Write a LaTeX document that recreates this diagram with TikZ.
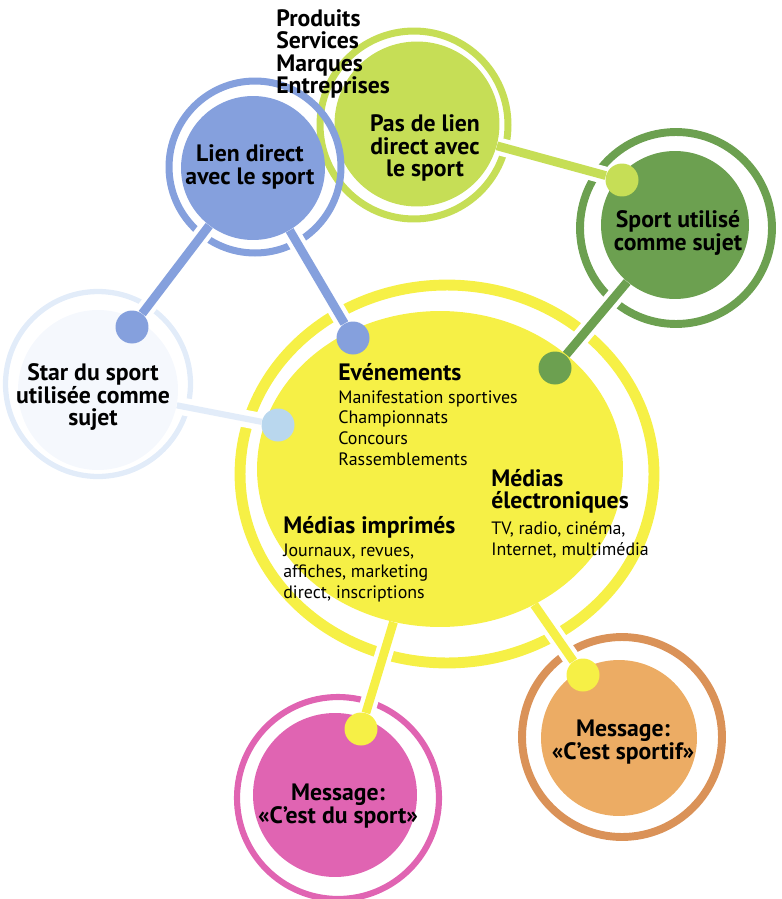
\documentclass[tikz,border=0pt]{standalone}
\usepackage{fontspec}
\setmainfont{PT Sans}
\usepackage{tikz}
\usetikzlibrary{positioning,shapes.geometric}
\definecolor{lienblue}{RGB}{133,160,221}
\definecolor{pasgreen}{RGB}{198,222,86}
\definecolor{sportgreen}{RGB}{108,160,80}
\definecolor{eventyellow}{RGB}{246,240,70}
\definecolor{msgpink}{RGB}{224,100,178}
\definecolor{msgorange}{RGB}{236,172,100}
\definecolor{msgbrown}{RGB}{218,146,88}
\definecolor{starring}{RGB}{226,236,249}
\definecolor{starfill}{RGB}{245,248,253}
\definecolor{dotblue}{RGB}{185,215,238}
\newcommand{\headfont}{\bfseries\fontsize{13.5}{12.8}\selectfont}
\newcommand{\listfont}{\fontsize{10.2}{11.7}\selectfont}
\pgfdeclarelayer{rings}
\pgfdeclarelayer{links}
\pgfsetlayers{rings,links,main}
\tikzset{
  ring/.style   = {circle, draw=#1, line width=4pt, inner sep=0pt},
  bubble/.style = {circle, fill=#1, inner sep=0pt},
  dot/.style    = {circle, fill=#1, inner sep=0pt, minimum size=0.66cm},
  link/.style   = {draw=#1, line width=5pt,
                   preaction={draw=white, line width=10pt}},
  title/.style  = {font=\headfont, align=center, inner sep=0pt},
  head/.style   = {font=\headfont, align=left, inner sep=0pt, anchor=base west},
  list/.style   = {font=\listfont, align=left, inner sep=0pt, anchor=base west}
}

\begin{document}
\begin{tikzpicture}[x=0.02cm, y=-0.02cm]
  \useasboundingbox (0,0) rectangle (781,899);
  \begin{pgfonlayer}{rings}
    \node[ring=starring, line width=3pt, minimum size=3.7cm] (starring) at (98,384) {};
    \node[ring=pasgreen, minimum size=3.76cm] (pasring) at (414,125) {};
    \node[bubble=pasgreen, minimum size=3.3cm] (pas) at (417,124) {};
    \node[ring=lienblue, minimum size=3.44cm] (lienring) at (255,167) {};
    \node[ring=sportgreen, line width=4.5pt, minimum size=3.84cm] (sportring) at (676,228) {};
    \node[ring=eventyellow, ellipse, line width=6.2pt, minimum width=8.28cm,
          minimum height=7.56cm] (eventring) at (447,474) {};
    \node[ring=msgpink, line width=3.5pt, minimum size=4.04cm] (pinkring) at (338,798) {};
    \node[ring=msgbrown, line width=4.5pt, minimum size=4cm] (orangering) at (622,737) {};
  \end{pgfonlayer}

  \node[bubble=starfill, minimum size=3.2cm] (star) at (98,390) {};
  \node[bubble=lienblue, minimum size=2.88cm] (lien) at (253,168) {};
  \node[bubble=sportgreen, minimum size=2.96cm] (sport) at (675,225) {};
  \node[bubble=eventyellow, ellipse, minimum width=7.32cm, minimum height=6.32cm] (event) at (440,469) {};
  \node[bubble=msgpink, minimum size=3.28cm] (pink) at (335,795) {};
  \node[bubble=msgorange, minimum size=3.12cm] (orange) at (619,738) {};

  \node[dot=lienblue] (d1) at (132,327) {};
  \node[dot=lienblue] (d2) at (353,338) {};
  \node[dot=pasgreen] (d3) at (622,180) {};
  \node[dot=sportgreen] (d4) at (555,368) {};
  \node[dot=dotblue] (d5) at (278,425) {};
  \node[dot=eventyellow] (d6) at (361,729) {};
  \node[dot=eventyellow] (d7) at (583,675) {};

  \begin{pgfonlayer}{links}
    \draw[link=lienblue] (lien) -- (d1);
    \draw[link=lienblue] (lien) -- (d2);
    \draw[link=pasgreen] (pas) -- (d3);
    \draw[link=sportgreen] (sport) -- (d4);
    \draw[link=starring, line width=3.5pt] (star) -- (d5);
    \draw[link=eventyellow] (event) -- (d6);
    \draw[link=eventyellow] (event) -- (d7);
  \end{pgfonlayer}

  \node[font=\headfont, align=left, inner sep=0pt, anchor=north west] (brands) at (276,9)
    {Produits\\Services\\Marques\\Entreprises};
  \node[title] (lientext) at (250,167) {Lien direct\\avec le sport};
  \node[title] (pastext) at (425,148) {Pas de lien\\direct avec\\le sport};
  \node[title] (sporttext) at (678,233) {Sport utilisé\\comme sujet};
  \node[title] (startext) at (93,397) {Star du sport\\utilisée comme\\sujet};

  \node[head] (evhead) at (338,380) {Evénements};
  \node[list] (evlist) at (338,465)
    {Manifestation sportives\\Championnats\\Concours\\Rassemblements};
  \node[head, font=\bfseries\fontsize{13.5}{12.2}\selectfont] (elechead) at (491,508)
    {Médias\\électroniques};
  \node[list] (eleclist) at (491,555) {TV, radio, cinéma,\\Internet, multimédia};
  \node[head] (printhead) at (283,533) {Médias imprimés};
  \node[list] (printlist) at (283,598)
    {Journaux, revues,\\affiches, marketing\\direct, inscriptions};

  \node[title] (pinktext) at (338,806) {Message:\\«C'est du sport»};
  \node[title] (orangetext) at (623,742) {Message:\\«C'est sportif»};
\end{tikzpicture}
\end{document}
